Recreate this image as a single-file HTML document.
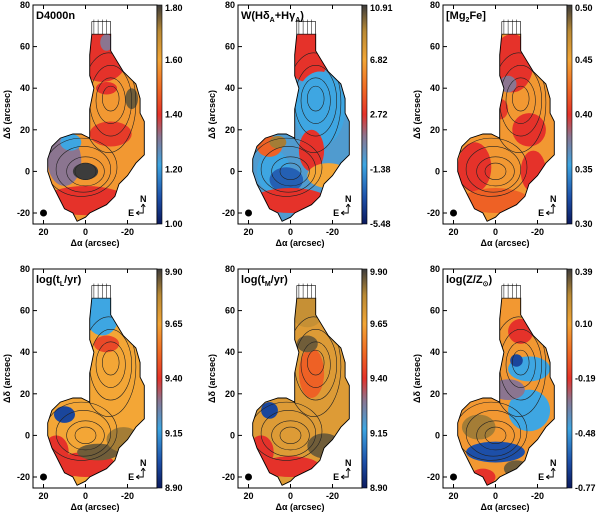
<!DOCTYPE html>
<html><head><meta charset="utf-8"><style>
body{margin:0;background:#fff}
svg{display:block;font-family:"Liberation Sans",sans-serif;font-weight:bold}
</style></head><body>
<svg id="s" width="600" height="512" viewBox="0 0 600 512">
<defs>
<linearGradient id="cb" x1="0" y1="1" x2="0" y2="0">
<stop offset="0" stop-color="#0b1a5e"/><stop offset="0.12" stop-color="#1d4fa8"/>
<stop offset="0.27" stop-color="#3ea6e2"/><stop offset="0.4" stop-color="#8b7590"/>
<stop offset="0.5" stop-color="#e5322a"/><stop offset="0.62" stop-color="#f06a24"/>
<stop offset="0.75" stop-color="#f3a636"/><stop offset="0.88" stop-color="#b98a35"/>
<stop offset="1" stop-color="#3c3c3c"/></linearGradient>
</defs>
</svg>
<script>
// title segments: [text, isSubscript]
const titles=[[["D4000n",0]],[["W(Hδ",0],["A",1],["+Hγ",0],["A",1],[")",0]],[["[Mg",0],["2",1],["Fe]",0]],[["log(t",0],["L",1],["/yr)",0]],[["log(t",0],["M",1],["/yr)",0]],[["log(Z/Z",0],["⊙",1],[")",0]]];
const cbTicks=[["1.80","1.60","1.40","1.20","1.00"],["10.91","6.82","2.72","-1.38","-5.48"],["0.50","0.45","0.40","0.35","0.30"],["9.90","9.65","9.40","9.15","8.90"],["9.90","9.65","9.40","9.15","8.90"],["0.39","0.10","-0.19","-0.48","-0.77"]];
const xTicks=[20,0,-20];
const yTicks=[80,60,40,20,0,-20];
const baseT=[0.72,0.3,0.72,0.75,0.8,0.72];
// patches: [ra, dec, rx, ry, t]
const patches=[
[[-8,55,12,12,0.5],[-10,62,3,4,0.4],[10,5,8,12,0.4],[7,14,5,4,0.27],[0,0,6,4,1.0],[-22,35,3,5,0.95],[0,-14,20,7,0.5],[-10,40,5,3,0.5],[-12,18,10,6,0.52]],
[[-8,55,10,12,0.5],[-14,30,12,18,0.27],[-10,10,6,10,0.5],[8,0,8,10,0.27],[2,-4,8,6,0.15],[-18,-2,10,6,0.75],[10,12,6,5,0.6],[0,-14,18,6,0.5],[6,14,4,3,0.9]],
[[-8,52,10,14,0.5],[-6,42,4,4,0.4],[10,2,8,12,0.5],[-16,20,8,8,0.5],[8,-16,5,4,0.4],[-18,0,6,10,0.5],[-2,30,4,5,0.52],[0,-14,16,6,0.6]],
[[-8,58,8,10,0.27],[-10,44,6,4,0.55],[14,-8,6,8,0.5],[10,10,5,4,0.1],[0,-14,14,6,0.5],[-6,-8,10,4,0.95],[-18,-2,8,6,0.9],[10,-18,5,3,0.5]],
[[-8,60,8,8,0.85],[-10,30,6,12,0.6],[14,-8,6,8,0.5],[10,12,4,4,0.1],[0,-15,14,5,0.5],[-16,-5,8,6,0.95],[-8,44,5,4,0.95]],
[[-12,50,6,6,0.5],[-16,32,10,6,0.27],[-16,12,10,10,0.27],[-6,22,8,5,0.4],[8,4,8,6,0.9],[0,-8,14,5,0.12],[-10,-16,6,4,0.95],[6,-20,6,4,0.5],[-10,36,3,3,0.1]]
];
const outline=[[-3,66],[-12,66],[-12,58],[-18,48],[-24,42],[-26,35],[-26,28],[-28,24],[-28,8],[-24,4],[-20,-2],[-16,-6],[-14,-12],[-10,-16],[-6,-18],[-2,-20],[0,-22],[4,-24],[6,-20],[10,-18],[12,-14],[14,-10],[16,-6],[18,0],[18,6],[16,12],[12,16],[6,18],[2,18],[-2,16],[-2,22],[-2,30],[-4,40],[-2,46],[-2,56]];
const contours=[[0,0,5,4],[0,0,9,7],[1,1,13,11],[2,2,17,14],[-12,35,4,6],[-12,34,7,11],[-12,34,10,17],[-11,33,13,24]];
const stops=[[0,[11,26,94]],[0.12,[29,79,168]],[0.27,[62,166,226]],[0.4,[139,117,144]],[0.5,[229,50,42]],[0.62,[240,106,36]],[0.75,[243,166,54]],[0.88,[185,138,53]],[1,[60,60,60]]];
function col(t){for(let i=1;i<stops.length;i++){if(t<=stops[i][0]){const a=stops[i-1],b=stops[i],f=(t-a[0])/(b[0]-a[0]);return'rgb('+a[1].map((v,k)=>Math.round(v+(b[1][k]-v)*f)).join(',')+')';}}return'rgb(60,60,60)';}
const svg=document.getElementById('s');const NS='http://www.w3.org/2000/svg';
function el(tag,attrs,parent,text){const e=document.createElementNS(NS,tag);for(const k in attrs)e.setAttribute(k,attrs[k]);if(text!==undefined)e.textContent=text;(parent||svg).appendChild(e);return e;}
function addTitle(g,x,y,segs){const t=el('text',{x:x,y:y,'font-size':11},g);let sub=false;segs.forEach(s=>{if(s[1]){el('tspan',{'font-size':7,dy:sub?0:3},t,s[0]);sub=true;}else{el('tspan',{dy:sub?-3:0},t,s[0]);sub=false;}});return t;}
const colX=[33,238,443],rowY=[5,269],W=124,H=219;
for(let p=0;p<6;p++){
 const x0=colX[p%3],y0=rowY[Math.floor(p/3)];
 const sx=ra=>x0+(25-ra)*2.1, sy=d=>y0+(80-d)*2.08;
 const g=el('g',{});
 
 
 const pts=outline.map(q=>sx(q[0]).toFixed(1)+','+sy(q[1]).toFixed(1)).join(' ');
 const cp=el('clipPath',{id:'c'+p},g);el('polygon',{points:pts},cp);
 const m=el('g',{'clip-path':'url(#c'+p+')'},g);
 el('rect',{x:x0,y:y0,width:W,height:H,fill:col(baseT[p])},m);
 patches[p].forEach(a=>{const e=el('ellipse',{cx:sx(a[0]),cy:sy(a[1]),rx:a[2]*2.1,ry:a[3]*2.08,fill:col(a[4])},m);});
 contours.forEach(c=>el('ellipse',{cx:sx(c[0]),cy:sy(c[1]),rx:c[2]*2.1,ry:c[3]*2.08,fill:'none',stroke:'#222','stroke-width':0.6},m));
 const ol=el('polygon',{points:pts,fill:'none',stroke:'#000','stroke-width':0.9},g);
 
 el('rect',{x:sx(-3),y:sy(72),width:9*2.1,height:6*2.08,fill:'#fff',stroke:'#000','stroke-width':0.6},g);
 for(let k=0;k<4;k++)el('line',{x1:sx(-4-k*2),y1:sy(73),x2:sx(-4-k*2),y2:sy(66),stroke:'#000','stroke-width':0.5},g);
 const fr=el('rect',{x:x0,y:y0,width:W,height:H,fill:'none',stroke:'#000','stroke-width':1},g);
 
 xTicks.forEach(v=>{el('line',{x1:sx(v),y1:y0+H,x2:sx(v),y2:y0+H-4,stroke:'#000'},g);el('line',{x1:sx(v),y1:y0,x2:sx(v),y2:y0+4,stroke:'#000'},g);
  const t=el('text',{x:sx(v),y:y0+H+11,'font-size':9,'text-anchor':'middle'},g,String(v));});
 yTicks.forEach(v=>{el('line',{x1:x0,y1:sy(v),x2:x0+4,y2:sy(v),stroke:'#000'},g);
  const t=el('text',{x:x0-3,y:sy(v)+3,'font-size':9,'text-anchor':'end'},g,String(v));});
 const xl=el('text',{x:x0+W/2,y:y0+H+22,'font-size':9,'text-anchor':'middle'},g,'Δα (arcsec)');
 const yl=el('text',{x:0,y:0,'font-size':9,'text-anchor':'middle',transform:'translate('+(x0-23)+','+(y0+H/2)+') rotate(-90)'},g,'Δδ (arcsec)');
 const tt=addTitle(g,x0+3,y0+14,titles[p]);
 el('circle',{cx:sx(20),cy:sy(-20),r:3.5,fill:'#000'},g);
 const cx=sx(-27),cy=sy(-20);
 el('path',{d:`M${cx-6},${cy} L${cx+1},${cy} L${cx+1},${cy-9}`,fill:'none',stroke:'#000','stroke-width':0.9},g);
 el('path',{d:`M${cx-6},${cy} l3,-2 m-3,2 l3,2 M${cx+1},${cy-9} l-2,3 m2,-3 l2,3`,fill:'none',stroke:'#000','stroke-width':0.9},g);
 el('text',{x:cx+1,y:cy-11,'font-size':9,'text-anchor':'middle'},g,'N');
 el('text',{x:cx-8,y:cy+3,'font-size':9,'text-anchor':'end'},g,'E');
 const cbx=x0+W;
 const cbr=el('rect',{x:cbx,y:y0,width:5,height:H,fill:'url(#cb)',stroke:'#000','stroke-width':0.6},g);
 
 cbTicks[p].forEach((lab,i)=>{const yy=y0+i*(H/4);const t=el('text',{x:cbx+8,y:Math.max(yy+3,y0+6),'font-size':9},g,lab);});
}
</script>
</body></html>
